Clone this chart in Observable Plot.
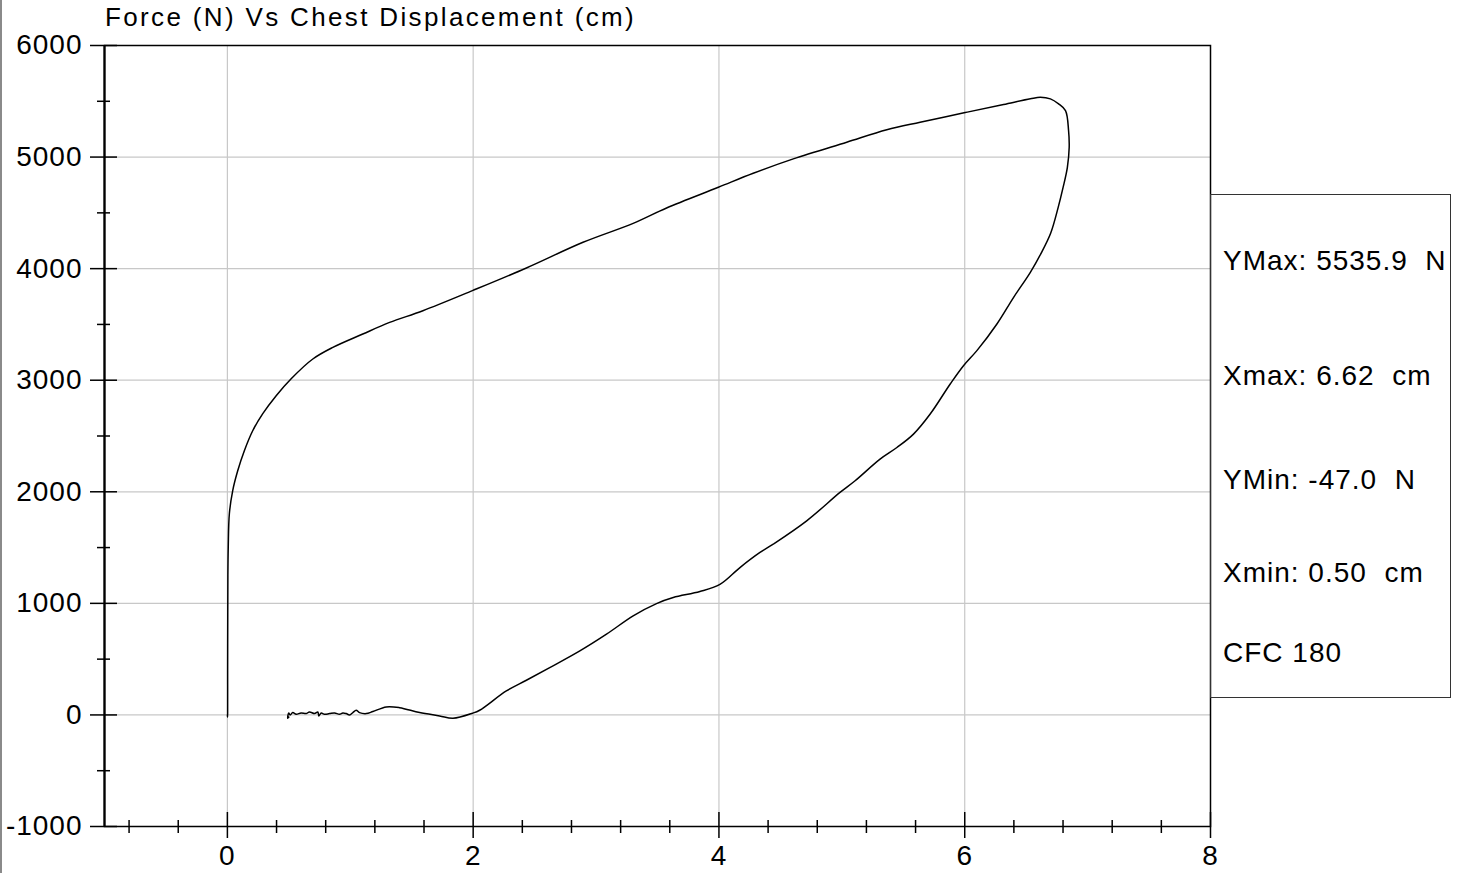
<!DOCTYPE html>
<html>
<head>
<meta charset="utf-8">
<script src="https://cdn.jsdelivr.net/npm/d3@7"></script>
<script src="https://cdn.jsdelivr.net/npm/@observablehq/plot@0.6"></script>
<style>
  html, body { margin: 0; padding: 0; background: #fff; }
  #wrap { position: relative; width: 1471px; height: 873px; overflow: hidden; font-family: "Liberation Sans", Arial, sans-serif; }
  #edge { position: absolute; left: 0; top: 0; width: 2px; height: 873px; background: #8a8a8a; }
  #title { position: absolute; left: 105px; top: 4px; font-size: 26px; letter-spacing: 2.35px; line-height: 1; white-space: pre; color: #000; }
  #legend { position: absolute; left: 1210px; top: 194px; width: 241px; height: 504px; border: 1px solid #333; box-sizing: border-box; }
  .leg { position: absolute; left: 12px; font-size: 28px; letter-spacing: 1px; line-height: 1; white-space: pre; color: #000; }
</style>
</head>
<body>
<div id="wrap">
  <div id="chart"></div>
  <div id="edge"></div>
  <div id="title"></div>
  <div id="legend"></div>
</div>
<script>
// Chest displacement (cm) and force (N) trace
const disp = [
  0, 0.001, 0.002, 0.002, 0.003, 0.004, 0.007, 0.016, 0.043, 0.084, 0.138, 0.206, 0.288, 0.397, 0.519,
  0.695, 0.858, 1.102, 1.32, 1.591, 1.994, 2.433, 2.894, 3.302, 3.574, 3.995, 4.279, 4.605, 5.040, 5.366,
  5.637, 6.004, 6.316, 6.534, 6.615, 6.697, 6.764, 6.82, 6.845, 6.85, 6.835, 6.80, 6.76, 6.70, 6.62,
  6.534, 6.398, 6.262, 6.099, 5.990, 5.882, 5.719, 5.583, 5.448, 5.311, 5.108, 4.985, 4.714, 4.442, 4.334,
  4.171, 4.008, 3.845, 3.628, 3.492, 3.302, 3.085, 2.868, 2.623, 2.433, 2.270, 2.053, 1.994, 1.836, 1.727,
  1.564, 1.401, 1.293, 1.184, 1.13, 1.075, 1.048, 1.021, 0.994, 0.967, 0.94, 0.912, 0.872, 0.831, 0.79,
  0.763, 0.744, 0.736, 0.709, 0.668, 0.641, 0.6, 0.56, 0.532, 0.511, 0.499, 0.491, 0.5
];
const force = [
  0, -20, 15, 400, 900, 1250, 1500, 1803, 2009, 2188, 2368, 2547, 2700, 2861, 3013,
  3190, 3294, 3414, 3518, 3623, 3803, 4006, 4236, 4406, 4544, 4729, 4855, 4984, 5133, 5244,
  5312, 5399, 5471, 5522, 5536, 5522, 5477, 5417, 5238, 5085, 4906, 4726, 4547, 4320, 4135,
  3967, 3743, 3504, 3265, 3130, 2966, 2697, 2517, 2397, 2293, 2099, 1994, 1740, 1531, 1456,
  1321, 1170, 1106, 1052, 998, 888, 724, 574, 424, 311, 215, 42, 15, -30, -9,
  21, 65, 72, 30, 12, 21, 42, 21, 0, 12, 18, 6, 18, 12, 6,
  18, -9, 27, 12, 27, 12, 18, 6, 21, 0, 18, -30, -20
];

const xMajor = [0, 2, 4, 6, 8];
const xMinor = [-0.8, -0.4, 0.4, 0.8, 1.2, 1.6, 2.4, 2.8, 3.2, 3.6, 4.4, 4.8, 5.2, 5.6, 6.4, 6.8, 7.2, 7.6];
const xGrid = [0, 2, 4, 6];
const yMajor = [-1000, 0, 1000, 2000, 3000, 4000, 5000, 6000];
const yMinor = [-500, 500, 1500, 2500, 3500, 4500, 5500];
const yGrid = [0, 1000, 2000, 3000, 4000, 5000];

const titleText = "Force (N) Vs Chest Displacement (cm)";
const legendLines = ["YMax: 5535.9  N", "Xmax: 6.62  cm", "YMin: -47.0  N", "Xmin: 0.50  cm", "CFC 180"];

const data = disp.map((d, i) => ({x: d, y: force[i]}));
const blank = () => "";
const plain = (d) => String(d);

const chart = Plot.plot({
  width: 1471,
  height: 873,
  marginLeft: 104,
  marginRight: 261,
  marginTop: 45,
  marginBottom: 47,
  style: {fontFamily: "'Liberation Sans', Arial, sans-serif", fontSize: "28px", letterSpacing: "1px", color: "#000", background: "#fff", overflow: "visible"},
  x: {domain: [-1, 8], label: null},
  y: {domain: [-1000, 6000], label: null},
  marks: [
    Plot.gridX(xGrid, {stroke: "#c8c8c8", strokeOpacity: 1, strokeWidth: 1.2}),
    Plot.gridY(yGrid, {stroke: "#c8c8c8", strokeOpacity: 1, strokeWidth: 1.2}),
    Plot.line(data, {x: "x", y: "y", curve: "catmull-rom", stroke: "#000", strokeWidth: 1.5}),
    Plot.frame({stroke: "#000", strokeWidth: 1.5}),
    Plot.ruleX([-1], {stroke: "#000", strokeWidth: 2.2}),
    // y axis
    Plot.axisY(yMajor, {anchor: "left", label: null, tickSize: 14, tickPadding: 8, tickFormat: plain, strokeWidth: 1.5}),
    Plot.axisY(yMajor, {anchor: "left", label: null, tickSize: 13, dx: 13, tickFormat: blank, strokeWidth: 1.5}),
    Plot.axisY(yMinor, {anchor: "left", label: null, tickSize: 7, tickFormat: blank, strokeWidth: 1.5}),
    Plot.axisY(yMinor, {anchor: "left", label: null, tickSize: 6, dx: 6, tickFormat: blank, strokeWidth: 1.5}),
    // x axis
    Plot.axisX(xMajor, {anchor: "bottom", label: null, tickSize: 12, tickPadding: 7, tickFormat: plain, strokeWidth: 1.5}),
    Plot.axisX(xMajor, {anchor: "bottom", label: null, tickSize: 14, dy: -14, tickFormat: blank, strokeWidth: 1.5}),
    Plot.axisX(xMinor, {anchor: "bottom", label: null, tickSize: 7, tickFormat: blank, strokeWidth: 1.5}),
    Plot.axisX(xMinor, {anchor: "bottom", label: null, tickSize: 6, dy: -6, tickFormat: blank, strokeWidth: 1.5})
  ]
});
document.getElementById("chart").appendChild(chart);

document.getElementById("title").textContent = titleText;

// legend rows: baseline positions relative to box top
const legendBaselines = [77, 192, 296, 389, 469];
const legend = document.getElementById("legend");
legendLines.forEach((t, i) => {
  const d = document.createElement("div");
  d.className = "leg";
  d.textContent = t;
  d.style.top = (legendBaselines[i] - 1 - 23.7) + "px";
  legend.appendChild(d);
});
</script>
</body>
</html>
